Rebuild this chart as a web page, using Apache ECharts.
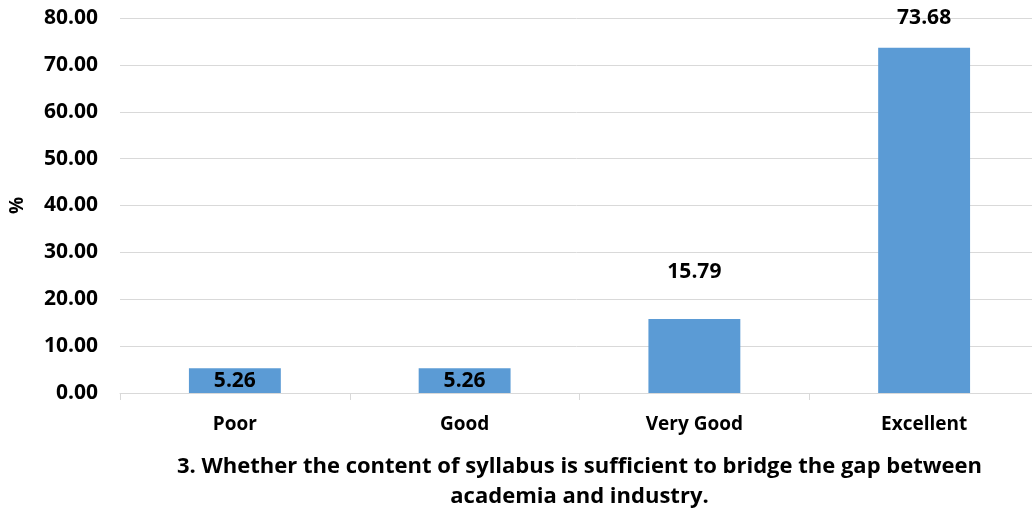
<!DOCTYPE html>
<html>
<head>
<meta charset="utf-8">
<script src="https://cdn.jsdelivr.net/npm/echarts@6/dist/echarts.min.js"></script>
<style>
html,body{margin:0;padding:0;background:#fff;}
#chart{width:1032px;height:512px;}
</style>
</head>
<body>
<div id="chart"></div>
<script>
const categories = ['Poor', 'Good', 'Very Good', 'Excellent'];
const values = [5.26, 5.26, 15.79, 73.68];
const yTicks = { min: 0, max: 80, interval: 10 };
const axisTitle = '3. Whether the content of syllabus is sufficient to bridge the gap between\nacademia and industry.';
const yName = '%';

// label placement per bar (style, not data)
const labelStyles = [
  { position: 'inside' },
  { position: 'inside' },
  { position: 'top', distance: 36 },
  { position: 'top', distance: 19 }
];

const FONT = 'Open Sans';
const chart = echarts.init(document.getElementById('chart'), null, { renderer: 'canvas' });
chart.setOption({
  animation: false,
  grid: { left: 120, right: -7, top: 18, bottom: 119, containLabel: false, outerBoundsMode: 'none' },
  xAxis: {
    type: 'category',
    data: categories,
    boundaryGap: true,
    axisLine: { show: true, lineStyle: { color: '#d9d9d9', width: 1 } },
    axisTick: { show: true, alignWithLabel: false, length: 7, lineStyle: { color: '#d9d9d9' } },
    axisLabel: { color: '#000', fontFamily: FONT, fontWeight: 'bold', fontSize: 19, margin: 22 },
    name: axisTitle,
    nameLocation: 'middle',
    nameGap: 59,
    nameTextStyle: { color: '#000', fontFamily: FONT, fontWeight: 'bold', fontSize: 22, lineHeight: 30, verticalAlign: 'top' }
  },
  yAxis: {
    type: 'value',
    min: yTicks.min, max: yTicks.max, interval: yTicks.interval,
    axisLine: { show: false },
    axisTick: { show: false },
    splitLine: { show: true, lineStyle: { color: '#d9d9d9', width: 1 } },
    axisLabel: { color: '#000', fontFamily: FONT, fontWeight: 'bold', fontSize: 21, margin: 22,
      formatter: v => v.toFixed(2) },
    name: yName,
    nameLocation: 'middle',
    nameGap: 93,
    nameRotate: 90,
    nameTextStyle: { color: '#000', fontFamily: FONT, fontWeight: 'bold', fontSize: 19 }
  },
  series: [{
    type: 'bar',
    barWidth: '40%',
    data: values.map((v, i) => ({
      value: v,
      label: Object.assign({}, labelStyles[i])
    })),
    itemStyle: { color: '#5B9BD5' },
    label: {
      show: true,
      color: '#000', fontFamily: FONT, fontWeight: 'bold', fontSize: 21,
      formatter: p => p.value.toFixed(2)
    }
  }]
});
</script>
</body>
</html>
